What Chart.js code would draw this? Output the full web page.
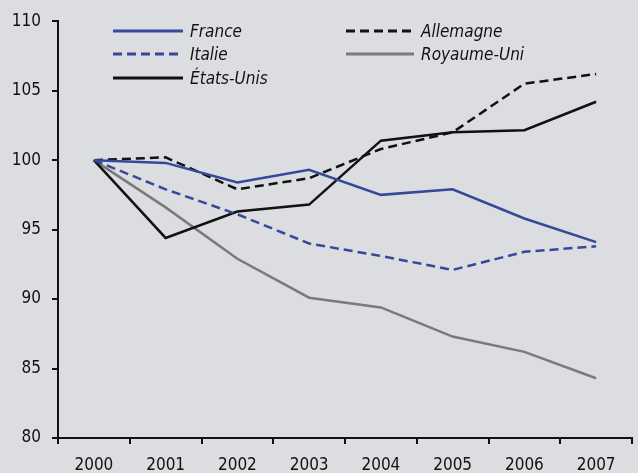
<!DOCTYPE html>
<html>
<head>
<meta charset="utf-8">
<script src="https://cdn.jsdelivr.net/npm/chart.js@4.4.1/dist/chart.umd.min.js"></script>
<style>
  html, body { margin: 0; padding: 0; background: #dcdde0; }
  #wrap { position: relative; width: 638px; height: 473px; }
  #chart { position: absolute; left: 0; top: 0; }
  .leg { position: absolute; height: 20px; display: flex; align-items: center;
         font-family: "Liberation Sans Narrow", "DejaVu Sans Condensed", "Liberation Sans", sans-serif;
         font-style: italic; font-size: 17px; color: #111; white-space: nowrap; }
  .leg svg { margin-right: 7px; }
</style>
</head>
<body>
<div id="wrap">
  <canvas id="chart" width="638" height="473"></canvas>
  <div id="legend"></div>
</div>
<script>
// Years and index values (2000 = 100)
const years = ['2000', '2001', '2002', '2003', '2004', '2005', '2006', '2007'];
const france = [100, 99.8, 98.4, 99.3, 97.5, 97.9, 95.8, 94.1];
const allemagne = [100, 100.2, 97.9, 98.7, 100.8, 102.0, 105.5, 106.2];
const italie = [100, 97.9, 96.1, 94.0, 93.1, 92.1, 93.4, 93.8];
const royaumeUni = [100, 96.6, 92.9, 90.1, 89.4, 87.3, 86.2, 84.3];
const etatsUnis = [100, 94.4, 96.3, 96.8, 101.4, 102.0, 102.15, 104.2];
const yTicks = [80, 85, 90, 95, 100, 105, 110];

const BLUE = '#34499a';
const BLACK = '#111111';
const GREY = '#7a7a7a';
const DASH = [9, 5];
const FONT = '"Liberation Sans Narrow", "DejaVu Sans Condensed", "Liberation Sans", sans-serif';

const series = [
    { label: 'France', data: france, color: BLUE, dash: [], x: 113, y: 31, w: 70 },
    { label: 'Italie', data: italie, color: BLUE, dash: DASH, x: 113, y: 54, w: 70 },
    { label: 'États-Unis', data: etatsUnis, color: BLACK, dash: [], x: 113, y: 78, w: 70 },
    { label: 'Allemagne', data: allemagne, color: BLACK, dash: DASH, x: 346, y: 31, w: 68 },
    { label: 'Royaume-Uni', data: royaumeUni, color: GREY, dash: [], x: 346, y: 54, w: 68 }
];

// HTML legend placed inside the plot area
const legendEl = document.getElementById('legend');
series.forEach(s => {
    const div = document.createElement('div');
    div.className = 'leg';
    div.style.left = s.x + 'px';
    div.style.top = (s.y - 10) + 'px';
    div.innerHTML = `<svg width="${s.w}" height="6"><line x1="0" y1="3" x2="${s.w}" y2="3" stroke="${s.color}" stroke-width="3" stroke-dasharray="${s.dash.join(' ')}"/></svg><span>${s.label}</span>`;
    legendEl.appendChild(div);
});

const ctx = document.getElementById('chart').getContext('2d');
new Chart(ctx, {
    type: 'line',
    data: {
        labels: years,
        datasets: series.map(s => ({
            label: s.label,
            data: s.data,
            borderColor: s.color,
            borderDash: s.dash,
            borderWidth: 2.5,
            pointRadius: 0,
            tension: 0,
            fill: false
        }))
    },
    options: {
        responsive: false,
        animation: false,
        layout: { padding: { top: 17, right: 6, left: 0, bottom: 0 } },
        plugins: { legend: { display: false }, tooltip: { enabled: false } },
        scales: {
            x: {
                offset: true,
                grid: { display: true, drawOnChartArea: false, offset: true, color: BLACK, lineWidth: 2, tickLength: 6 },
                border: { color: BLACK, width: 2 },
                ticks: { color: BLACK, font: { family: FONT, size: 17 }, padding: 11, maxRotation: 0 },
                afterFit: (scale) => { scale.height = 35; }
            },
            y: {
                min: 80,
                max: 110,
                afterBuildTicks: (scale) => { scale.ticks = yTicks.map(v => ({ value: v })); },
                grid: { display: true, drawOnChartArea: false, color: BLACK, lineWidth: 2, tickLength: 6 },
                border: { color: BLACK, width: 2 },
                ticks: { color: BLACK, font: { family: FONT, size: 17 }, padding: 11 },
                afterFit: (scale) => { scale.width = 58; }
            }
        }
    }
});
</script>
</body>
</html>
